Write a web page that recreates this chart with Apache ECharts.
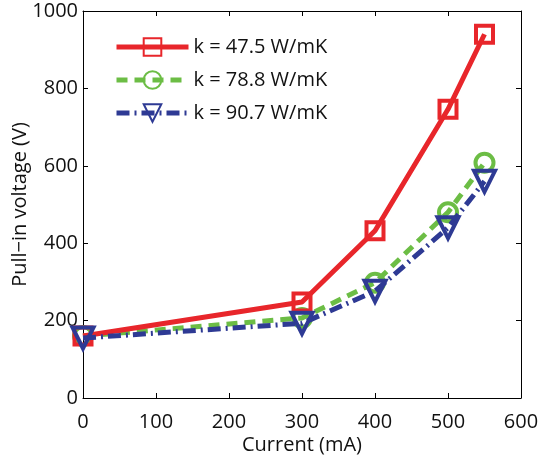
<!DOCTYPE html>
<html>
<head>
<meta charset="utf-8">
<script src="https://cdn.jsdelivr.net/npm/echarts@6/dist/echarts.min.js"></script>
<style>
  html, body { margin: 0; padding: 0; background: #fff; }
  #main { width: 540px; height: 457px; }
</style>
</head>
<body>
<div id="main"></div>
<script>
const currents = [0, 300, 400, 500, 550];
const k475 = [160, 248, 432, 746, 940];
const k788 = [160, 207, 298, 480, 608];
const k907 = [155, 193, 276, 440, 560];
const seriesNames = ['k = 47.5 W/mK', 'k = 78.8 W/mK', 'k = 90.7 W/mK'];

const font = 'Open Sans, Liberation Sans, sans-serif';
const fs = 20;

function pairs(ys) {
  let out = [];
  for (let i = 0; i < currents.length; i++) {
    out.push([currents[i], ys[i]]);
  }
  return out;
}

let chart = echarts.init(document.getElementById('main'));

const tickStyle = { show: true, inside: true, length: 5, lineStyle: { color: '#000', width: 1 } };
const axisLine = { show: true, onZero: false, lineStyle: { color: '#000', width: 1 } };

let options = {
  animation: false,
  backgroundColor: '#fff',
  grid: { left: 83, top: 11, right: 19, bottom: 59, outerBoundsMode: 'none', containLabel: false },
  legend: {
    left: 109,
    top: 32,
    orient: 'vertical',
    itemWidth: 72,
    itemHeight: 22,
    itemGap: 13,
    lineStyle: { width: 5 },
    textStyle: { fontFamily: font, fontSize: fs, color: '#111' },
    data: seriesNames
  },
  xAxis: [
    {
      type: 'value', min: 0, max: 600, interval: 100,
      name: 'Current (mA)', nameLocation: 'middle', nameGap: 37, nameMoveOverlap: false,
      nameTextStyle: { fontFamily: font, fontSize: fs, color: '#111' },
      axisLine: axisLine, axisTick: tickStyle, splitLine: { show: false },
      axisLabel: { fontFamily: font, fontSize: fs, color: '#111', margin: 14 }
    },
    {
      type: 'value', min: 0, max: 600, interval: 100, position: 'top',
      axisLine: axisLine, axisTick: tickStyle, splitLine: { show: false },
      axisLabel: { show: false }
    }
  ],
  yAxis: [
    {
      type: 'value', min: 0, max: 1000, interval: 200,
      name: 'Pull\u2212in voltage (V)', nameLocation: 'middle', nameGap: 53, nameMoveOverlap: false,
      nameTextStyle: { fontFamily: font, fontSize: fs, color: '#111' },
      axisLine: axisLine, axisTick: tickStyle, splitLine: { show: false },
      axisLabel: { fontFamily: font, fontSize: fs, color: '#111', margin: 5, formatter: (v) => String(v) }
    },
    {
      type: 'value', min: 0, max: 1000, interval: 200, position: 'right',
      axisLine: axisLine, axisTick: tickStyle, splitLine: { show: false },
      axisLabel: { show: false }
    }
  ],
  series: [
    {
      name: seriesNames[0], type: 'line', data: pairs(k475),
      symbol: 'rect', symbolSize: 17,
      lineStyle: { color: '#e8262b', width: 5, type: 'solid' },
      itemStyle: { color: 'rgba(255,255,255,0)', borderColor: '#e8262b', borderWidth: 4 },
      z: 3
    },
    {
      name: seriesNames[1], type: 'line', data: pairs(k788),
      symbol: 'circle', symbolSize: 18,
      lineStyle: { color: '#6cbd45', width: 5, type: [11, 7] },
      itemStyle: { color: 'rgba(255,255,255,0)', borderColor: '#6cbd45', borderWidth: 4 },
      z: 2
    },
    {
      name: seriesNames[2], type: 'line', data: pairs(k907),
      symbol: 'triangle', symbolSize: 21, symbolRotate: 180,
      lineStyle: { color: '#2e3a94', width: 5, type: [13, 5, 2, 5] },
      itemStyle: { color: 'rgba(255,255,255,0)', borderColor: '#2e3a94', borderWidth: 4 },
      z: 4
    }
  ]
};

chart.setOption(options);
</script>
</body>
</html>
